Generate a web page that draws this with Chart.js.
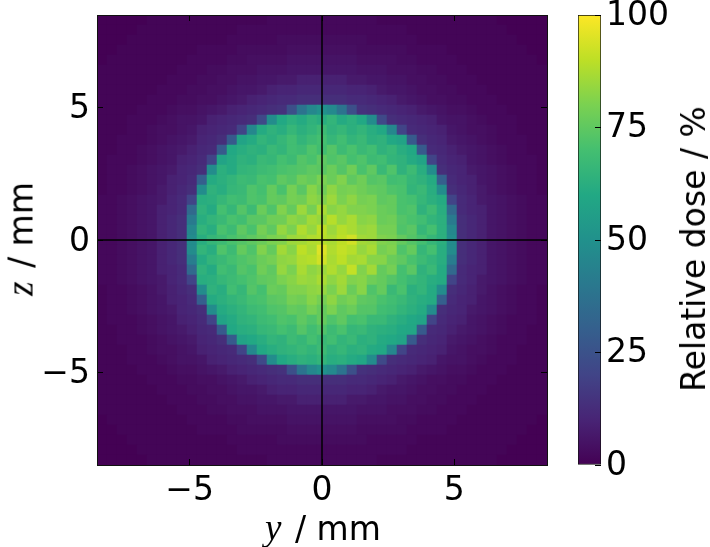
<!DOCTYPE html>
<html lang="en">
<head>
    <meta charset="UTF-8">
    <title>Relative dose map</title>
    <script src="https://cdn.jsdelivr.net/npm/chart.js"></script>
    <style>
        body { margin: 0; background: white; font-family: "DejaVu Sans"; color: black; }
        #wrap { position: relative; width: 710px; height: 547px; overflow: hidden; }
        canvas { position: absolute; top: 0; }
        .label { position: absolute; font-size: 33px; white-space: nowrap; line-height: 40px; transform: translate(-50%, -50%); }
        .label i { font-family: "Liberation Serif"; font-size: 37px; margin-right: 3px; }
        .rot { transform: translate(-50%, -50%) rotate(-90deg); }
    </style>
</head>
<body>
<div id="wrap">
    <canvas id="doseChart" style="left:0"></canvas>
    <canvas id="barChart" style="left:560px"></canvas>
    <div class="label" style="left:323px; top:528px"><i>y</i> / mm</div>
    <div class="label rot" style="left:21px; top:239px"><i>z</i> / mm</div>
    <div class="label rot" style="left:694px; top:249px">Relative dose / %</div>
</div>

<script>
    const axisTicks = [-5, 0, 5];
    const barTicks = [0, 25, 50, 75, 100];
    const axisLimits = [-8.5, 8.5];
    const barRange = [0, 100];
    const viridis = ['#440154', '#482475', '#414487', '#355f8d', '#2a788e', '#21918c', '#22a884', '#44bf70', '#7ad151', '#bddf26', '#fde725'];

    // dose in %, top row first, 45 x 45 cells
    const doseGrid = [
        [0,0,0,0,0,1,1,1,1,1,1,1,1,1,1,1,1,2,2,2,2,2,2,2,2,2,2,2,1,1,1,1,1,1,1,1,1,1,1,1,0,0,0,0,0],
        [0,0,0,0,1,1,1,1,1,1,1,1,1,1,2,2,2,2,2,2,2,2,2,2,2,2,2,2,2,2,2,1,1,1,1,1,1,1,1,1,1,0,0,0,0],
        [0,0,0,1,1,1,1,1,1,1,1,1,1,2,2,2,2,2,3,3,3,3,3,3,3,3,3,2,2,2,2,2,1,1,1,1,1,1,1,1,1,1,0,0,0],
        [0,0,1,1,1,1,1,1,1,1,2,2,2,2,3,3,3,3,3,4,4,4,4,4,4,4,3,3,3,3,3,2,2,2,2,1,1,1,1,1,1,1,1,0,0],
        [0,1,1,1,1,1,1,1,1,2,2,2,2,3,3,4,4,4,4,5,5,5,5,5,5,5,4,4,4,4,3,3,2,2,2,2,1,1,1,1,1,1,1,1,0],
        [1,1,1,1,1,1,1,1,2,2,2,3,3,4,4,4,5,5,5,6,6,6,6,6,6,6,5,5,5,4,4,4,3,3,2,2,2,1,1,1,1,1,1,1,1],
        [1,1,1,1,1,1,1,2,2,2,3,3,4,4,5,5,6,6,7,7,9,9,9,9,9,7,7,6,6,5,5,4,4,3,3,2,2,2,1,1,1,1,1,1,1],
        [1,1,1,1,1,1,2,2,2,3,3,4,4,5,6,6,7,9,10,10,11,11,11,11,11,10,10,9,7,6,6,5,4,4,3,3,2,2,2,1,1,1,1,1,1],
        [1,1,1,1,1,2,2,2,3,3,4,4,5,6,7,9,10,11,12,12,13,13,13,13,13,12,12,11,10,9,7,6,5,4,4,3,3,2,2,2,1,1,1,1,1],
        [1,1,1,1,2,2,2,3,4,4,5,6,7,9,10,11,12,13,14,24,38,46,50,47,38,24,14,13,12,11,10,9,7,6,5,4,4,3,2,2,2,1,1,1,1],
        [1,1,1,2,2,2,3,4,5,5,6,9,10,11,12,13,22,48,60,63,61,64,62,65,61,63,60,48,22,13,12,11,10,9,6,5,5,4,3,2,2,2,1,1,1],
        [1,1,1,2,2,3,4,4,5,6,9,10,11,12,20,46,61,64,62,66,63,65,68,64,66,63,65,62,60,46,20,12,11,10,9,6,5,4,4,3,2,2,1,1,1],
        [1,1,2,2,2,3,4,5,6,7,10,11,13,28,58,61,65,63,66,69,65,68,70,66,69,65,67,63,64,60,58,28,13,11,10,7,6,5,4,3,2,2,2,1,1],
        [1,1,2,2,3,4,5,6,7,9,11,12,28,60,62,64,63,67,65,69,68,72,69,73,68,71,67,69,64,66,62,60,28,12,11,9,7,6,5,4,3,2,2,1,1],
        [1,2,2,2,3,4,5,6,9,10,12,20,58,61,64,63,67,66,70,68,73,71,75,72,74,70,72,68,69,65,64,61,58,20,12,10,9,6,5,4,3,2,2,2,1],
        [1,2,2,3,4,5,6,7,10,11,13,48,63,61,65,66,68,69,71,72,73,75,74,77,73,78,71,75,67,72,64,68,62,48,13,11,10,7,6,5,4,3,2,2,1],
        [1,2,2,3,4,5,6,9,10,12,30,61,63,65,68,67,71,70,75,73,78,76,80,77,81,75,78,73,74,69,70,66,64,61,30,12,10,9,6,5,4,3,2,2,1],
        [1,2,2,3,4,5,7,9,11,13,48,64,62,66,67,72,70,76,71,79,74,82,78,83,79,80,78,76,75,72,71,65,67,62,48,13,11,9,7,5,4,3,2,2,1],
        [2,2,3,4,5,6,7,10,12,20,62,63,66,69,68,72,71,76,75,79,78,83,81,85,80,83,79,80,75,76,71,70,66,63,61,20,12,10,7,6,5,4,3,2,2],
        [2,2,3,4,5,6,9,10,12,34,64,61,70,66,73,68,77,72,81,76,85,79,87,82,84,81,81,80,77,76,71,72,64,68,62,34,12,10,9,6,5,4,3,2,2],
        [2,2,3,4,5,6,9,11,13,41,62,65,67,71,69,74,74,78,78,83,81,86,84,89,84,87,82,83,77,78,73,71,69,65,63,41,13,11,9,6,5,4,3,2,2],
        [2,2,3,4,5,6,9,11,13,46,65,62,71,68,75,71,79,75,84,80,88,84,90,85,89,87,84,85,79,79,72,74,66,70,63,46,13,11,9,6,5,4,3,2,2],
        [2,2,3,4,5,6,9,11,13,48,62,66,68,71,73,75,77,80,81,85,86,88,89,87,90,93,86,85,81,80,76,73,70,66,63,48,13,11,9,6,5,4,3,2,2],
        [2,2,3,4,5,6,9,11,13,48,65,62,72,68,76,72,81,76,86,82,90,87,95,88,91,89,84,87,79,81,72,76,66,70,62,48,13,11,9,6,5,4,3,2,2],
        [2,2,3,4,5,6,9,11,13,42,61,65,67,70,72,74,77,79,83,84,88,89,93,87,90,86,87,82,82,77,75,71,68,65,62,42,13,11,9,6,5,4,3,2,2],
        [2,2,3,4,5,6,9,10,12,34,64,61,69,67,73,71,78,75,84,80,87,83,85,88,84,91,81,86,76,79,70,74,64,67,61,34,12,10,9,6,5,4,3,2,2],
        [2,2,3,4,5,6,7,10,12,20,62,63,66,68,70,72,75,76,80,82,85,84,87,83,86,81,82,78,76,73,70,67,65,62,61,20,12,10,7,6,5,4,3,2,2],
        [1,2,2,3,4,5,7,9,11,13,48,64,62,69,66,73,70,77,76,81,81,83,84,80,85,77,82,72,76,67,71,63,65,61,48,13,11,9,7,5,4,3,2,2,1],
        [1,2,2,3,4,5,6,9,10,12,30,61,63,65,67,70,71,74,75,79,78,82,79,83,78,80,75,74,71,69,67,64,62,61,30,12,10,9,6,5,4,3,2,2,1],
        [1,2,2,3,4,5,6,7,10,11,13,48,61,63,65,68,69,72,73,76,75,79,76,80,75,77,73,73,69,68,65,63,61,48,13,11,10,7,6,5,4,3,2,2,1],
        [1,2,2,2,3,4,5,6,9,10,12,20,58,61,64,65,68,69,72,71,75,72,76,72,75,70,71,67,67,64,62,60,58,20,12,10,9,6,5,4,3,2,2,2,1],
        [1,1,2,2,3,4,5,6,7,9,11,12,28,60,62,63,66,67,70,68,73,69,72,68,71,66,67,64,63,62,60,59,28,12,11,9,7,6,5,4,3,2,2,1,1],
        [1,1,2,2,2,3,4,5,6,7,10,11,13,28,58,60,62,65,64,68,66,70,67,69,65,67,63,64,61,60,58,28,13,11,10,7,6,5,4,3,2,2,2,1,1],
        [1,1,1,2,2,3,4,4,5,6,9,10,11,12,20,46,60,62,64,65,67,65,68,64,66,63,64,61,60,46,20,12,11,10,9,6,5,4,4,3,2,2,1,1,1],
        [1,1,1,2,2,2,3,4,5,5,6,9,10,11,12,13,22,48,60,62,64,63,65,62,63,61,59,48,22,13,12,11,10,9,6,5,5,4,3,2,2,2,1,1,1],
        [1,1,1,1,2,2,2,3,4,4,5,6,7,9,10,11,12,13,14,24,38,46,50,47,38,24,14,13,12,11,10,9,7,6,5,4,4,3,2,2,2,1,1,1,1],
        [1,1,1,1,1,2,2,2,3,3,4,4,5,6,7,9,10,11,12,12,13,13,13,13,13,12,12,11,10,9,7,6,5,4,4,3,3,2,2,2,1,1,1,1,1],
        [1,1,1,1,1,1,2,2,2,3,3,4,4,5,6,6,7,9,10,10,11,11,11,11,11,10,10,9,7,6,6,5,4,4,3,3,2,2,2,1,1,1,1,1,1],
        [1,1,1,1,1,1,1,2,2,2,3,3,4,4,5,5,6,6,7,7,9,9,9,9,9,7,7,6,6,5,5,4,4,3,3,2,2,2,1,1,1,1,1,1,1],
        [1,1,1,1,1,1,1,1,2,2,2,3,3,4,4,4,5,5,5,6,6,6,6,6,6,6,5,5,5,4,4,4,3,3,2,2,2,1,1,1,1,1,1,1,1],
        [0,1,1,1,1,1,1,1,1,2,2,2,2,3,3,4,4,4,4,5,5,5,5,5,5,5,4,4,4,4,3,3,2,2,2,2,1,1,1,1,1,1,1,1,0],
        [0,0,1,1,1,1,1,1,1,1,2,2,2,2,3,3,3,3,3,4,4,4,4,4,4,4,3,3,3,3,3,2,2,2,2,1,1,1,1,1,1,1,1,0,0],
        [0,0,0,1,1,1,1,1,1,1,1,1,1,2,2,2,2,2,3,3,3,3,3,3,3,3,3,2,2,2,2,2,1,1,1,1,1,1,1,1,1,1,0,0,0],
        [0,0,0,0,1,1,1,1,1,1,1,1,1,1,2,2,2,2,2,2,2,2,2,2,2,2,2,2,2,2,2,1,1,1,1,1,1,1,1,1,1,0,0,0,0],
        [0,0,0,0,0,1,1,1,1,1,1,1,1,1,1,1,1,2,2,2,2,2,2,2,2,2,2,2,1,1,1,1,1,1,1,1,1,1,1,1,0,0,0,0,0]
    ];

    function hexToRgb(h) {
        return [1, 3, 5].map(i => parseInt(h.substr(i, 2), 16));
    }

    function doseColor(v) {
        let t = Math.min(Math.max(v / 100, 0), 1) * (viridis.length - 1);
        let i = Math.min(Math.floor(t), viridis.length - 2);
        let a = hexToRgb(viridis[i]), b = hexToRgb(viridis[i + 1]);
        let c = a.map((n, k) => Math.round(n + (b[k] - n) * (t - i)));
        return `rgb(${c[0]},${c[1]},${c[2]})`;
    }

    // cell centres on the y / z axes
    const cellSize = (axisLimits[1] - axisLimits[0]) / doseGrid.length;
    let cells = [];
    doseGrid.forEach((row, r) => row.forEach((v, c) => {
        cells.push({ x: axisLimits[0] + (c + 0.5) * cellSize, y: axisLimits[1] - (r + 0.5) * cellSize, dose: v });
    }));

    const tickFont = { family: 'DejaVu Sans', size: 33 };
    const minus = v => String(v).replace('-', '\u2212');
    const setTicks = list => scale => { scale.ticks = list.map(v => ({ value: v })); };

    function frameAxis(position, size, showLabels, offset) {
        return {
            type: 'linear',
            position: position,
            min: axisLimits[0],
            max: axisLimits[1],
            afterBuildTicks: setTicks(axisTicks),
            afterFit: scale => {
                if (scale.isHorizontal()) scale.height = size; else scale.width = size;
                scale.paddingTop = scale.paddingBottom = scale.paddingLeft = scale.paddingRight = 0;
            },
            border: { color: '#111', width: 1, z: 2 },
            grid: { drawOnChartArea: false, tickLength: -6, color: '#000', z: 2 },
            ticks: { display: showLabels, color: '#000', font: tickFont, padding: 13, labelOffset: offset, maxRotation: 0, autoSkip: false, callback: minus }
        };
    }

    const doseCanvas = document.getElementById('doseChart');
    doseCanvas.width = 560; doseCanvas.height = 547;
    new Chart(doseCanvas, {
        type: 'scatter',
        data: {
            datasets: [
                { data: [{ x: 0, y: axisLimits[0] }, { x: 0, y: axisLimits[1] }], showLine: true, borderColor: '#000', borderWidth: 1.5, pointRadius: 0, order: 0 },
                { data: [{ x: axisLimits[0], y: 0 }, { x: axisLimits[1], y: 0 }], showLine: true, borderColor: '#000', borderWidth: 1.5, pointRadius: 0, order: 0 },
                {
                    data: cells,
                    order: 1,
                    pointStyle: 'rect',
                    pointBorderWidth: 0,
                    pointRadius: ctx => ctx.chart.scales.x.width / doseGrid.length * Math.SQRT1_2 + 0.4,
                    pointBackgroundColor: ctx => ctx.raw ? doseColor(ctx.raw.dose) : '#000'
                }
            ]
        },
        options: {
            responsive: false,
            animation: false,
            events: [],
            layout: { padding: 0 },
            plugins: { legend: { display: false }, tooltip: { enabled: false } },
            scales: {
                x: frameAxis('bottom', 82, true, 0),
                y: frameAxis('left', 97, true, 2),
                x2: frameAxis('top', 15, false, 0),
                y2: frameAxis('right', 13, false, 0)
            }
        }
    });

    // colour bar, one floating bar filled along the dose scale
    const barCanvas = document.getElementById('barChart');
    barCanvas.width = 150; barCanvas.height = 547;
    new Chart(barCanvas, {
        type: 'bar',
        data: {
            labels: ['dose'],
            datasets: [{
                data: [barRange],
                barPercentage: 1,
                categoryPercentage: 1,
                borderColor: '#111',
                borderWidth: 1,
                borderSkipped: false,
                backgroundColor: ctx => {
                    let area = ctx.chart.chartArea;
                    if (!area) return viridis[0];
                    let g = ctx.chart.ctx.createLinearGradient(0, area.bottom, 0, area.top);
                    viridis.forEach((c, i) => g.addColorStop(i / (viridis.length - 1), c));
                    return g;
                }
            }]
        },
        options: {
            responsive: false,
            animation: false,
            events: [],
            layout: { padding: { left: 18, top: 15, bottom: 82, right: 0 } },
            plugins: { legend: { display: false }, tooltip: { enabled: false } },
            scales: {
                x: { display: false },
                y: {
                    position: 'right',
                    min: barRange[0],
                    max: barRange[1],
                    afterBuildTicks: setTicks(barTicks),
                    afterFit: scale => { scale.width = 109; scale.paddingTop = scale.paddingBottom = 0; },
                    border: { display: false },
                    grid: { drawOnChartArea: false, tickLength: -6, color: '#000', z: 2 },
                    ticks: { color: '#000', font: tickFont, padding: 11, labelOffset: 1 }
                }
            }
        }
    });
</script>
</body>
</html>
